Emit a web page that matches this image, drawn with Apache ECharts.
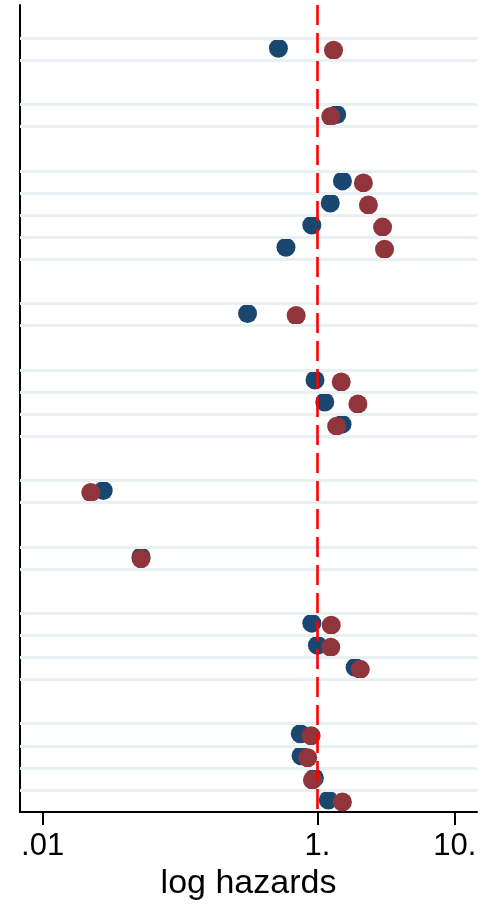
<!DOCTYPE html>
<html>
<head>
<meta charset="utf-8">
<script src="https://cdn.jsdelivr.net/npm/echarts@6/dist/echarts.min.js"></script>
<style>
  html, body { margin: 0; padding: 0; background: #ffffff; }
  #chart { width: 490px; height: 906px; }
</style>
</head>
<body>
<div id="chart"></div>
<script>
// Slot of each estimate in the list, counted from the top (empty slots separate the groups)
const rowSlot = [0, 3, 6, 7, 8, 9, 12, 15, 16, 17, 20, 23, 26, 27, 28, 31, 32, 33, 34];

// Hazard ratios, first model (navy) and second model (maroon)
const hazardA = [0.52, 1.38, 1.52, 1.24, 0.91, 0.59, 0.31, 0.96, 1.13, 1.51, 0.0276, 0.052, 0.91, 1.00, 1.88, 0.75, 0.76, 0.95, 1.20];
const hazardB = [1.31, 1.25, 2.16, 2.35, 2.98, 3.08, 0.70, 1.49, 1.97, 1.38, 0.0224, 0.052, 1.26, 1.25, 2.05, 0.90, 0.85, 0.92, 1.52];

// Horizontal axis ticks and their labels
const xTicks = [0.01, 1, 10];
const xTickLabels = ['.01', '1.', '10.'];

// Reference line: no effect
const refValue = 1;

const slotMin = -1.5;
const slotMax = 35;

// Light band borders above and below every filled slot
const borderSet = new Set();
rowSlot.forEach(function (s) { borderSet.add(s); borderSet.add(s + 1); });
const borders = Array.from(borderSet).filter(function (b) { return b < slotMax; }).sort(function (a, b) { return a - b; });

const font = 'Liberation Sans, Arial, Helvetica, sans-serif';

function tickText(v) {
  for (let i = 0; i < xTicks.length; i++) {
    if (Math.abs(v - xTicks[i]) < xTicks[i] * 1e-6) return xTickLabels[i];
  }
  return '';
}

const chart = echarts.init(document.getElementById('chart'), null, { renderer: 'canvas' });

chart.setOption({
  animation: false,
  backgroundColor: '#ffffff',
  grid: { left: 20, right: 13, top: 5, bottom: 93, containLabel: false },
  xAxis: {
    type: 'log',
    logBase: 10,
    min: 0.00684,
    max: 14.5,
    axisLine: { show: true, onZero: false, lineStyle: { color: '#000000', width: 2 } },
    axisTick: { show: true, length: 13, customValues: xTicks, lineStyle: { color: '#000000', width: 2 } },
    axisLabel: {
      customValues: xTicks,
      formatter: tickText,
      fontSize: 31,
      color: '#000000',
      fontFamily: font,
      margin: 19
    },
    splitLine: { show: false },
    minorTick: { show: false },
    name: 'log hazards',
    nameLocation: 'middle',
    nameGap: 53,
    nameTextStyle: { fontSize: 34, color: '#000000', fontFamily: font }
  },
  yAxis: {
    type: 'value',
    inverse: true,
    min: slotMin,
    max: slotMax,
    axisLine: { show: true, lineStyle: { color: '#000000', width: 2 } },
    axisTick: { show: false },
    axisLabel: { show: false },
    splitLine: { show: false }
  },
  series: [
    {
      type: 'scatter',
      data: [],
      silent: true,
      z: 1,
      markLine: {
        silent: true,
        symbol: 'none',
        animation: false,
        label: { show: false },
        lineStyle: { color: '#e9f0f2', width: 3, type: 'solid' },
        emphasis: { disabled: true },
        data: borders.map(function (b) { return { yAxis: b }; })
      }
    },
    {
      type: 'scatter',
      data: [],
      silent: true,
      z: 2,
      markLine: {
        silent: true,
        symbol: 'none',
        animation: false,
        label: { show: false },
        lineStyle: { color: '#ff0000', width: 2.6, type: [20, 8] },
        emphasis: { disabled: true },
        data: [{ xAxis: refValue }]
      }
    },
    {
      type: 'scatter',
      name: 'Model A',
      z: 3,
      symbol: 'circle',
      symbolSize: 19,
      symbolOffset: [0, -1],
      itemStyle: { color: '#1a476f', opacity: 1 },
      emphasis: { disabled: true },
      data: hazardA.map(function (v, i) { return [v, rowSlot[i] + 0.5]; })
    },
    {
      type: 'scatter',
      name: 'Model B',
      z: 4,
      symbol: 'circle',
      symbolSize: 19,
      symbolOffset: [0, 1],
      itemStyle: { color: '#90353b', opacity: 1 },
      emphasis: { disabled: true },
      data: hazardB.map(function (v, i) { return [v, rowSlot[i] + 0.5]; })
    }
  ]
});
</script>
</body>
</html>
